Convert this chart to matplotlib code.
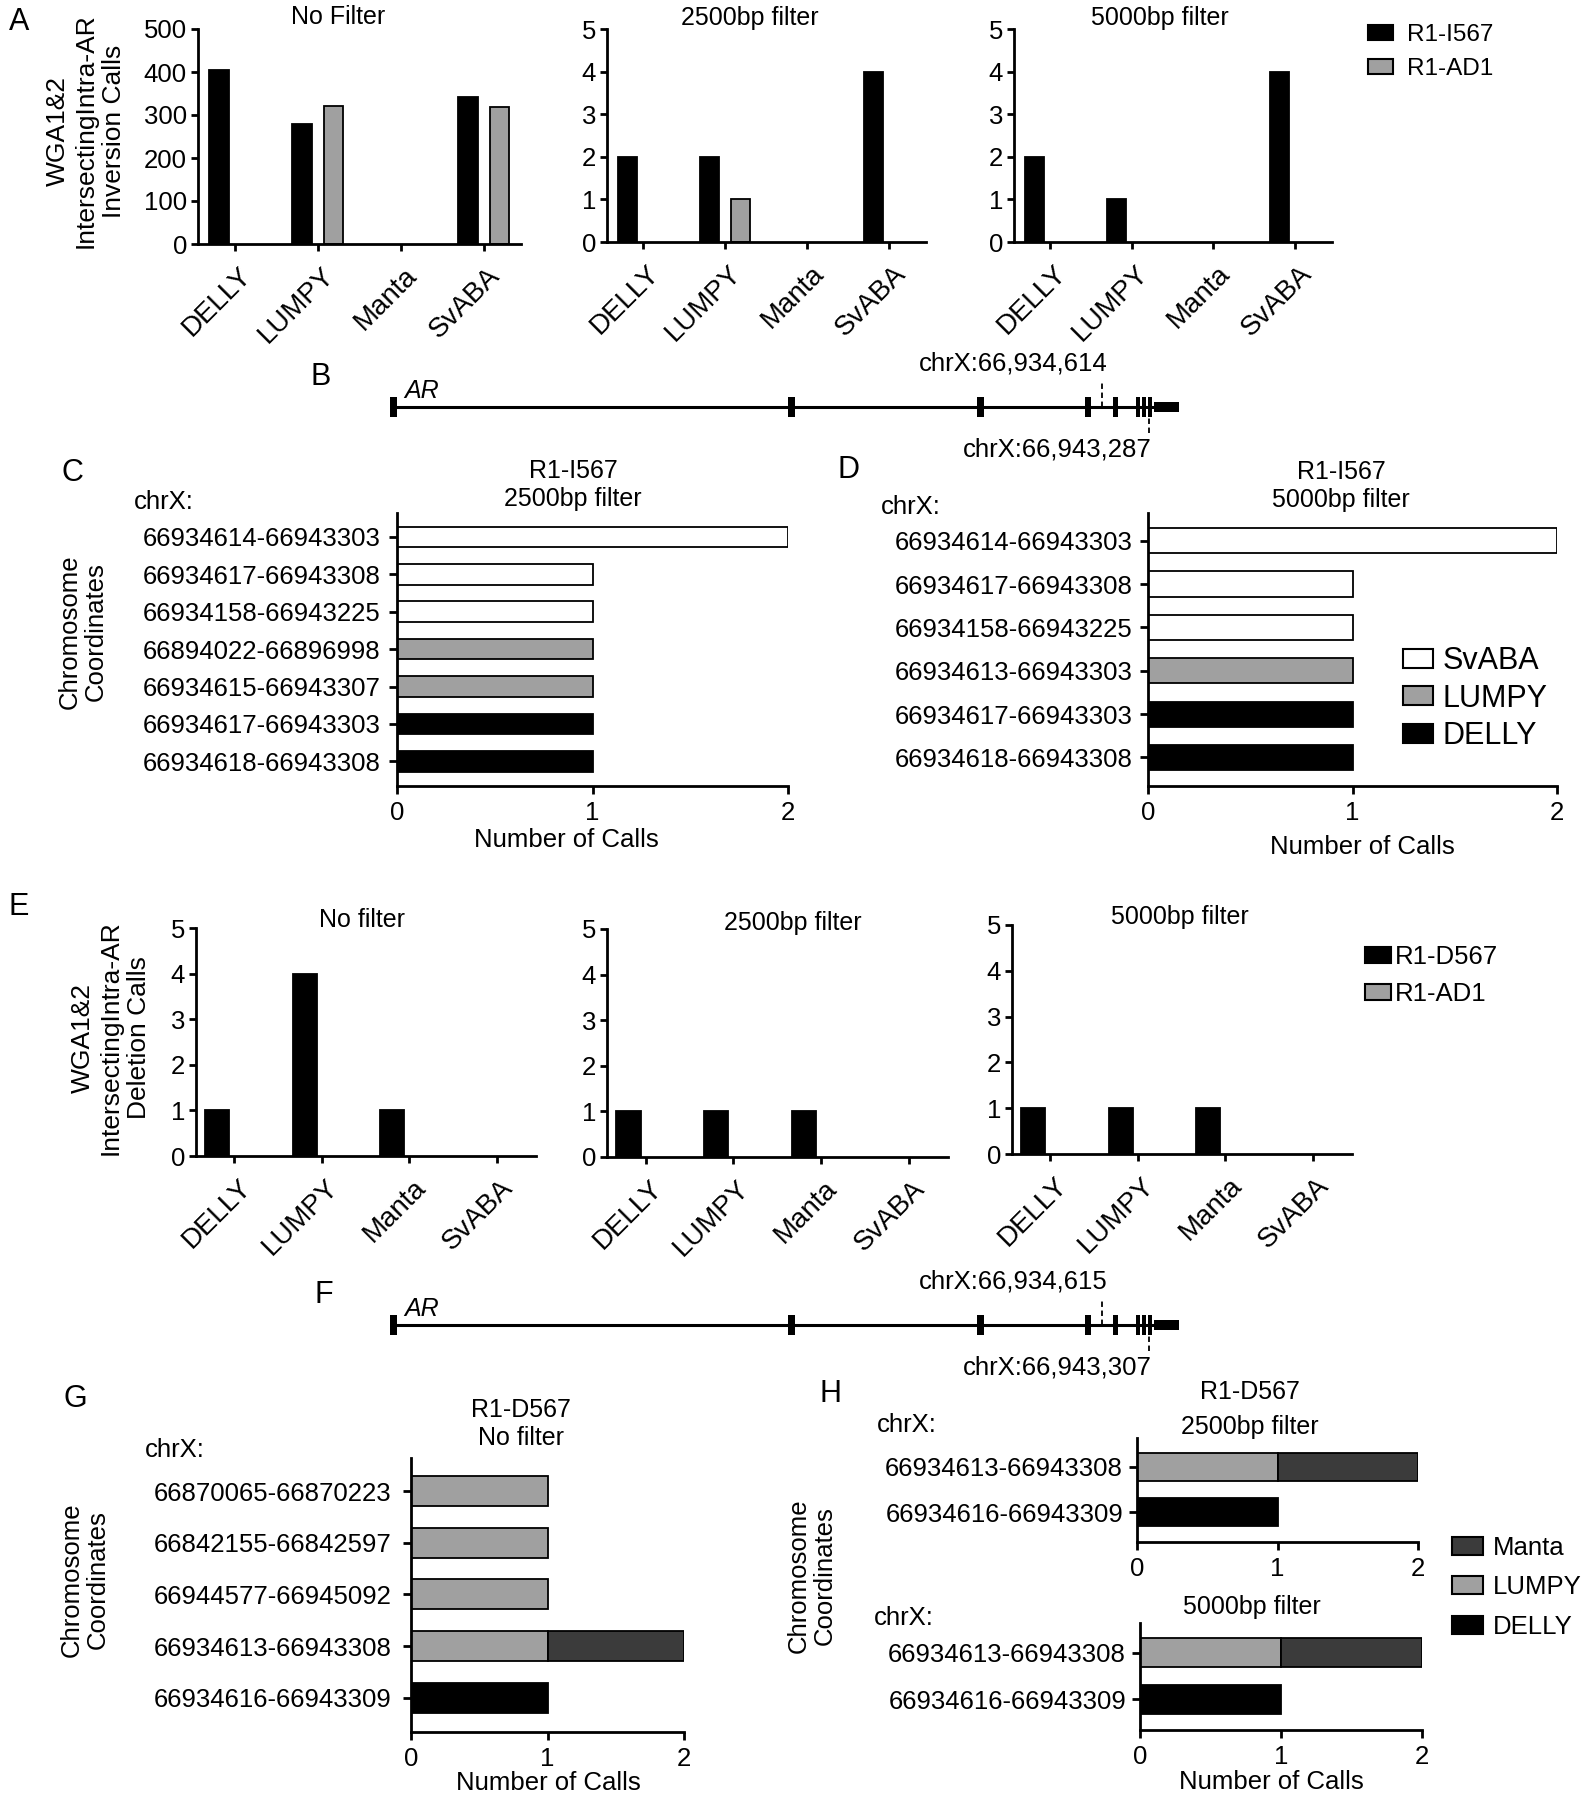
import numpy as np
import matplotlib
matplotlib.use("Agg")
import matplotlib.pyplot as plt
from matplotlib.patches import Patch
from matplotlib.transforms import ScaledTranslation

plt.rcParams['font.family'] = ['Liberation Sans', 'DejaVu Sans']

# ---- data ----
callers = ['DELLY', 'LUMPY', 'Manta', 'SvABA']

# A: intersecting intra-AR inversion calls
inv_i567_nofilter = [405, 280, 0, 343]
inv_ad1_nofilter = [0, 322, 0, 319]
inv_i567_2500 = [2, 2, 0, 4]
inv_ad1_2500 = [0, 1, 0, 0]
inv_i567_5000 = [2, 1, 0, 4]
inv_ad1_5000 = [0, 0, 0, 0]

# E: intersecting intra-AR deletion calls
del_d567_nofilter = [1, 4, 1, 0]
del_ad1_nofilter = [0, 0, 0, 0]
del_d567_2500 = [1, 1, 1, 0]
del_ad1_2500 = [0, 0, 0, 0]
del_d567_5000 = [1, 1, 1, 0]
del_ad1_5000 = [0, 0, 0, 0]

# C / D: R1-I567 inversion coordinates
c_coords = ['66934614-66943303', '66934617-66943308', '66934158-66943225',
            '66894022-66896998', '66934615-66943307', '66934617-66943303',
            '66934618-66943308']
c_calls = [2, 1, 1, 1, 1, 1, 1]
c_caller = ['SvABA', 'SvABA', 'SvABA', 'LUMPY', 'LUMPY', 'DELLY', 'DELLY']

d_coords = ['66934614-66943303', '66934617-66943308', '66934158-66943225',
            '66934613-66943303', '66934617-66943303', '66934618-66943308']
d_calls = [2, 1, 1, 1, 1, 1]
d_caller = ['SvABA', 'SvABA', 'SvABA', 'LUMPY', 'DELLY', 'DELLY']

# G / H: R1-D567 deletion coordinates (stacked per caller)
g_coords = ['66870065-66870223', '66842155-66842597', '66944577-66945092',
            '66934613-66943308', '66934616-66943309']
g_lumpy = [1, 1, 1, 1, 0]
g_manta = [0, 0, 0, 1, 0]
g_delly = [0, 0, 0, 0, 1]

h_coords = ['66934613-66943308', '66934616-66943309']
h2500_lumpy = [1, 0]
h2500_manta = [1, 0]
h2500_delly = [0, 1]
h5000_lumpy = [1, 0]
h5000_manta = [1, 0]
h5000_delly = [0, 1]

# AR gene schematic (position along drawn line, schematic units)
exon_pos = [3, 401, 591, 698, 725, 748, 754, 760]
utr_start, gene_end = 764, 789
bp_inv = [712, 759]
bp_inv_labels = ['chrX:66,934,614', 'chrX:66,943,287']
bp_del_labels = ['chrX:66,934,615', 'chrX:66,943,307']

GREY = '#a0a0a0'
DARK = '#3b3b3b'
caller_colors = {'SvABA': 'white', 'LUMPY': GREY, 'DELLY': 'black', 'Manta': DARK}

W, H = 1590, 1800
fig = plt.figure(figsize=(W / 100, H / 100), dpi=100)


def px_axes(x0, y0, x1, y1):
    return fig.add_axes([x0 / W, 1 - y1 / H, (x1 - x0) / W, (y1 - y0) / H])


def px_text(x, y, s, **kw):
    kw.setdefault('ha', 'center')
    kw.setdefault('va', 'center')
    fig.text(x / W, 1 - y / H, s, **kw)


def style(ax):
    for s in ['top', 'right']:
        ax.spines[s].set_visible(False)
    for s in ['left', 'bottom']:
        ax.spines[s].set_linewidth(2)
    ax.tick_params(width=2, length=5)


def grouped(ax, dark_vals, grey_vals, ymax, ystep, bw, dx):
    style(ax)
    x = np.arange(len(callers))
    for vals, off, col in [(dark_vals, -dx, 'black'), (grey_vals, dx, GREY)]:
        vals = np.asarray(vals, float)
        keep = vals > 0
        ax.bar(x[keep] + off, vals[keep], width=bw, color=col,
               edgecolor='black', linewidth=1.3)
    ax.set_xlim(-0.44, 3.45)
    ax.set_ylim(0, ymax)
    ax.set_yticks(np.arange(0, ymax + ystep / 2, ystep))
    ax.tick_params(axis='y', labelsize=18.5, pad=3)
    ax.set_xticks(x)
    ax.set_xticklabels(callers, rotation=45, ha='right', va='center',
                       rotation_mode='anchor', fontsize=20)
    ax.tick_params(axis='x', pad=15)
    shift = ScaledTranslation(9 / 72, 0, fig.dpi_scale_trans)
    for lab in ax.get_xticklabels():
        lab.set_transform(lab.get_transform() + shift)


def coord_axes(ax, labels, pad):
    style(ax)
    ax.tick_params(length=6)
    y = np.arange(len(labels))
    ax.set_yticks(y)
    ax.set_yticklabels(labels, fontsize=18.5)
    ax.set_ylim(len(labels) - 1 + 0.66, -0.64)
    ax.set_xlim(0, 2)
    ax.set_xticks([0, 1, 2])
    ax.tick_params(axis='y', pad=pad)
    ax.tick_params(axis='x', labelsize=18.5, pad=5)
    return y


def stacked(ax, labels, lumpy, manta, delly, pad, hgt):
    y = coord_axes(ax, labels, pad)
    left = np.zeros(len(labels))
    for vals, name in [(lumpy, 'LUMPY'), (manta, 'Manta'), (delly, 'DELLY')]:
        vals = np.asarray(vals, float)
        keep = vals > 0
        ax.barh(y[keep], vals[keep], left=left[keep], height=hgt,
                color=caller_colors[name], edgecolor='black', linewidth=1.3)
        left += vals


def gene(ycen, labels):
    ax = px_axes(390, ycen - 30, 1179, ycen + 30)
    ax.set_xlim(0, gene_end)
    ax.set_ylim(-30, 30)
    ax.axis('off')
    ax.hlines(0, 0, gene_end, color='black', lw=2.2)
    ax.bar(exon_pos, 20, width=[7, 7, 7, 6, 5, 3.5, 3.5, 3.5], bottom=-10,
           color='black', clip_on=False)
    ax.bar(utr_start, 10, width=gene_end - utr_start, bottom=-5, align='edge',
           color='black', clip_on=False)
    ax.vlines(bp_inv[0], 0, 27, colors='black', lw=1.3, linestyles=(0, (3, 2)))
    ax.vlines(bp_inv[1], -26, 0, colors='black', lw=1.3, linestyles=(0, (3, 2)))
    ax.text(14, 9, 'AR', style='italic', fontsize=18, ha='left', va='baseline')
    px_text(1108, ycen - 43, labels[0], fontsize=18.5, ha='right')
    px_text(1152, ycen + 42, labels[1], fontsize=18.5, ha='right')


def legend(handles, x, y, fs, hl, hh, ls, tp):
    fig.legend(handles=handles, loc='upper left', bbox_to_anchor=(x / W, 1 - y / H),
               frameon=False, fontsize=fs, handlelength=hl, handleheight=hh,
               labelspacing=ls, handletextpad=tp, borderpad=0, borderaxespad=0)


def patch(col, lab):
    return Patch(facecolor=col, edgecolor='black', linewidth=1.5, label=lab)


# ---- panel A ----
axA1 = px_axes(198, 29, 521, 244)
grouped(axA1, inv_i567_nofilter, inv_ad1_nofilter, 500, 100, 0.235, 0.19)
axA2 = px_axes(607, 29, 926, 242)
grouped(axA2, inv_i567_2500, inv_ad1_2500, 5, 1, 0.235, 0.19)
axA3 = px_axes(1014, 29, 1332, 242)
grouped(axA3, inv_i567_5000, inv_ad1_5000, 5, 1, 0.235, 0.19)
px_text(338, 17, 'No Filter', fontsize=18)
px_text(750, 18, '2500bp filter', fontsize=18)
px_text(1160, 18, '5000bp filter', fontsize=18)
px_text(86, 131, 'WGA1&2\nIntersectingIntra-AR\nInversion Calls', fontsize=19,
        rotation=90, linespacing=1.2)
legend([patch('black', 'R1-I567'), patch(GREY, 'R1-AD1')], 1368, 24, 17.5, 1.03, 0.62, 0.5, 0.58)

# ---- panel B ----
gene(407, bp_inv_labels)

# ---- panel C ----
axC = px_axes(397, 513, 788, 786)
yC = coord_axes(axC, c_coords, 6)
axC.barh(yC, c_calls, height=0.55, color=[caller_colors[c] for c in c_caller],
         edgecolor='black', linewidth=1.3)
px_text(573, 485, 'R1-I567\n2500bp filter', fontsize=18, linespacing=1.2)
px_text(134, 502, 'chrX:', fontsize=18.5, ha='left')
px_text(566, 840, 'Number of Calls', fontsize=18.5)
px_text(83, 632, 'Chromosome\nCoordinates', fontsize=18.5, rotation=90, linespacing=1.1)

# ---- panel D ----
axD = px_axes(1148, 513, 1557, 786)
yD = coord_axes(axD, d_coords, 5)
axD.barh(yD, d_calls, height=0.58, color=[caller_colors[c] for c in d_caller],
         edgecolor='black', linewidth=1.3)
px_text(1341, 486, 'R1-I567\n5000bp filter', fontsize=18, linespacing=1.25)
px_text(881, 507, 'chrX:', fontsize=18.5, ha='left')
px_text(1362, 847, 'Number of Calls', fontsize=18.5)
legend([patch('white', 'SvABA'), patch(GREY, 'LUMPY'), patch('black', 'DELLY')],
       1403, 646, 22, 0.98, 0.59, 0.25, 0.3)

# ---- panel E ----
axE1 = px_axes(196, 928, 536, 1156)
grouped(axE1, del_d567_nofilter, del_ad1_nofilter, 5, 1, 0.275, 0.195)
axE2 = px_axes(607, 929, 948, 1157)
grouped(axE2, del_d567_2500, del_ad1_2500, 5, 1, 0.275, 0.195)
axE3 = px_axes(1012, 925, 1352, 1154)
grouped(axE3, del_d567_5000, del_ad1_5000, 5, 1, 0.275, 0.195)
px_text(362, 920, 'No filter', fontsize=18)
px_text(793, 923, '2500bp filter', fontsize=18)
px_text(1180, 917, '5000bp filter', fontsize=18)
px_text(111, 1038, 'WGA1&2\nIntersectingIntra-AR\nDeletion Calls', fontsize=19,
        rotation=90, linespacing=1.2)
legend([patch('black', 'R1-D567'), patch(GREY, 'R1-AD1')], 1365, 945, 18.5, 1.0, 0.58, 0.5, 0.16)

# ---- panel F ----
gene(1325, bp_del_labels)

# ---- panel G ----
axG = px_axes(411, 1458, 684, 1732)
stacked(axG, g_coords, g_lumpy, g_manta, g_delly, 8, 0.58)
px_text(521, 1424, 'R1-D567\nNo filter', fontsize=18, linespacing=1.25)
px_text(145, 1450, 'chrX:', fontsize=18.5, ha='left')
px_text(548, 1783, 'Number of Calls', fontsize=18.5)
px_text(85, 1580, 'Chromosome\nCoordinates', fontsize=18.5, rotation=90, linespacing=1.1)

# ---- panel H ----
axH1 = px_axes(1137, 1438, 1418, 1542)
stacked(axH1, h_coords, h2500_lumpy, h2500_manta, h2500_delly, 4, 0.63)
axH2 = px_axes(1140, 1623, 1422, 1730)
stacked(axH2, h_coords, h5000_lumpy, h5000_manta, h5000_delly, 4, 0.63)
px_text(1250, 1392, 'R1-D567', fontsize=18)
px_text(1250, 1427, '2500bp filter', fontsize=18)
px_text(1252, 1607, '5000bp filter', fontsize=18)
px_text(877, 1425, 'chrX:', fontsize=18.5, ha='left')
px_text(874, 1618, 'chrX:', fontsize=18.5, ha='left')
px_text(1271, 1782, 'Number of Calls', fontsize=18.5)
px_text(812, 1576, 'Chromosome\nCoordinates', fontsize=18.5, rotation=90, linespacing=1.1)
legend([patch(DARK, 'Manta'), patch(GREY, 'LUMPY'), patch('black', 'DELLY')],
       1452, 1536, 18.5, 1.2, 0.7, 0.6, 0.4)

# ---- panel letters ----
for let, (x, y) in {'A': (19, 22), 'B': (321, 377), 'C': (72, 473), 'D': (848, 470),
                    'E': (19, 907), 'F': (324, 1295), 'G': (75, 1399), 'H': (831, 1394)}.items():
    px_text(x, y, let, fontsize=22)

fig.savefig('out.png', dpi=100)
